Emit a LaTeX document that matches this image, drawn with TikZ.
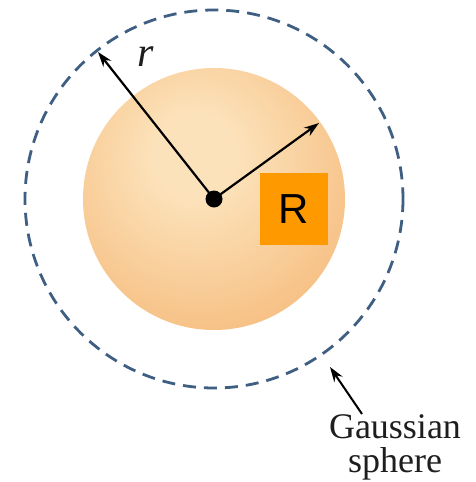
\documentclass[tikz,border=0pt]{standalone}
\usepackage{fontspec}
\setmainfont{Liberation Serif}
\newfontfamily\boxfont{Liberation Sans}
\usetikzlibrary{arrows.meta}
\definecolor{sphin}{HTML}{FCE2BA}
\definecolor{sphout}{HTML}{F2A559}
\definecolor{gauss}{HTML}{3F5F82}
\definecolor{rbox}{HTML}{FF9900}
\definecolor{txt}{HTML}{1E1E1E}
\pgfdeclareradialshading{sphshade}{\pgfpoint{-4bp}{9bp}}{color(0bp)=(sphin); color(8bp)=(sphin); color(52bp)=(sphout); color(100bp)=(sphout)}
\begin{document}
\begin{tikzpicture}[x=1pt,y=-1pt,
  arr/.style={line width=2.2pt, -{Stealth[length=15pt,width=10pt]}},
  lbl/.style={text=txt, inner sep=0pt}]
\useasboundingbox (0,0) rectangle (476,482);
\fill[white] (0,0) rectangle (476,482);
\coordinate (c) at (214,199);
\path[shading=sphshade] (c) circle (131);
\draw[gauss, line width=2.8pt, dash pattern=on 13pt off 8pt] (c) circle (189);
\coordinate (rt) at (98,52);
\coordinate (Rt) at (319,123);
\draw[arr] (c) -- (rt);
\draw[arr] (c) -- (Rt);
\fill (c) circle (8.5);
\node[lbl, font=\fontsize{42}{42}\selectfont\itshape] (rl) at (146,57) {r};
\node[fill=rbox, minimum width=68pt, minimum height=72pt, inner sep=0pt,
      font=\boxfont\fontsize{42}{42}\selectfont] (Rb) at (294,209) {R};
\node[lbl, align=center, anchor=north, font=\fontsize{36}{34}\selectfont] (gs) at (395,414) {Gaussian\\sphere};
\coordinate (gt) at (330,367);
\draw[arr, line width=2pt] ([xshift=-33pt]gs.north) -- (gt);
\end{tikzpicture}
\end{document}
